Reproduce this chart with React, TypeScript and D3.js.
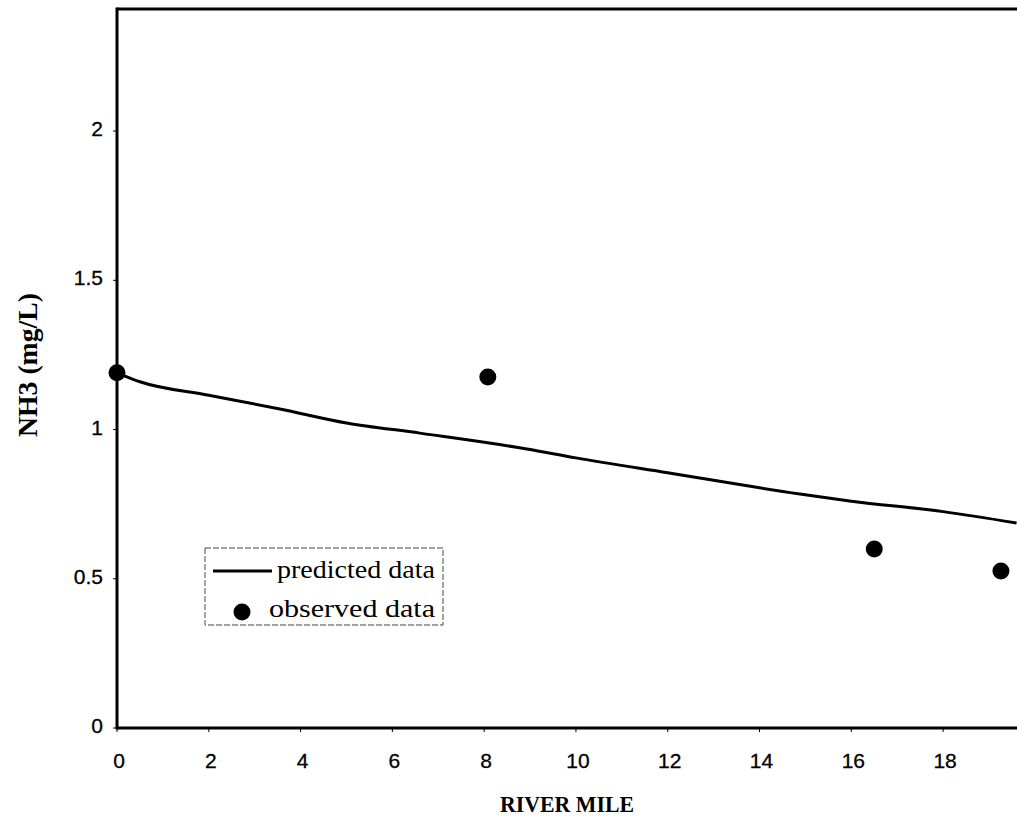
import React from "react";
import * as d3 from "d3";

const predictedMiles = [0, 0.5, 2, 3.55, 5, 6.6, 8.93, 10, 12, 14.88, 16, 18, 19.6];
const predictedNH3 = [1.19, 1.16, 1.115, 1.069, 1.022, 0.988, 0.935, 0.905, 0.855, 0.784, 0.76, 0.725, 0.687];
const observedMiles = [0, 8.08, 16.5, 19.26];
const observedNH3 = [1.19, 1.176, 0.6, 0.526];
const xTicks = [0, 2, 4, 6, 8, 10, 12, 14, 16, 18];
const yTicks = [0, 0.5, 1, 1.5, 2];

export default function App() {
  const W = 1017, H = 823;
  const left = 117, right = 1017, top = 9, bottom = 728;
  const x = d3.scaleLinear().domain([0, 19.61]).range([left, right]);
  const y = d3.scaleLinear().domain([0, 2.409]).range([bottom, top]);
  const line = d3.line<number>().x((d, i) => x(predictedMiles[i])).y((d) => y(d)).curve(d3.curveMonotoneX);
  const tickFont = "'Liberation Sans', Arial, sans-serif";
  const serif = "'Liberation Serif', 'Times New Roman', serif";
  return (
    <svg width={W} height={H} style={{ position: "absolute", left: 0, top: 0, background: "#fff" }}>
      <rect x={0} y={0} width={W} height={H} fill="#fff" />
      <line x1={left} y1={top} x2={right} y2={top} stroke="#000" strokeWidth={3} />
      <line x1={left} y1={top - 1.5} x2={left} y2={bottom + 1.5} stroke="#000" strokeWidth={3} />
      <line x1={left} y1={bottom} x2={right} y2={bottom} stroke="#000" strokeWidth={3} />
      {yTicks.map((t) => (
        <g key={"y" + t}>
          <line x1={left - 4} x2={left} y1={y(t)} y2={y(t)} stroke="#000" strokeWidth={1} />
          <text x={103} y={y(t) + 5} textAnchor="end" fontFamily={tickFont} fontSize={21} stroke="#000" strokeWidth={0.3}>{t}</text>
        </g>
      ))}
      {xTicks.map((t) => (
        <g key={"x" + t}>
          <line x1={x(t)} x2={x(t)} y1={bottom} y2={bottom + 4} stroke="#000" strokeWidth={1} />
          <text x={x(t) + 2} y={768} textAnchor="middle" fontFamily={tickFont} fontSize={21} stroke="#000" strokeWidth={0.3}>{t}</text>
        </g>
      ))}
      <path d={line(predictedNH3) || ""} fill="none" stroke="#000" strokeWidth={3} />
      {observedNH3.map((v, i) => (
        <circle key={"o" + i} cx={x(observedMiles[i])} cy={y(v)} r={8.5} fill="#000" />
      ))}
      <text x={567} y={812} textAnchor="middle" fontFamily={serif} fontWeight="bold" fontSize={24} textLength={134} lengthAdjust="spacingAndGlyphs">RIVER MILE</text>
      <text transform="translate(37,365) rotate(-90)" textAnchor="middle" fontFamily={serif} fontWeight="bold" fontSize={28} textLength={144} lengthAdjust="spacingAndGlyphs">NH3 (mg/L)</text>
      <rect x={205} y={548} width={238} height={77} fill="#fff" stroke="#444" strokeWidth={1} strokeDasharray="6,2" />
      <line x1={213} x2={272} y1={571} y2={571} stroke="#000" strokeWidth={3} />
      <text x={277} y={578} fontFamily={serif} fontSize={25} textLength={158} lengthAdjust="spacingAndGlyphs">predicted data</text>
      <circle cx={242} cy={612} r={8.5} fill="#000" />
      <text x={269} y={617} fontFamily={serif} fontSize={25} textLength={166} lengthAdjust="spacingAndGlyphs">observed data</text>
    </svg>
  );
}
